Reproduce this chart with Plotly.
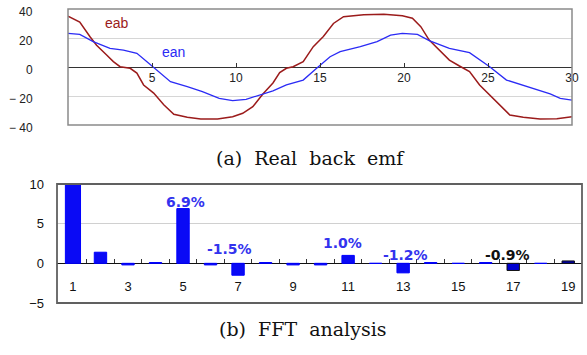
import plotly.graph_objects as go

# ---------------- data ----------------
# (a) real back emf: time axis and traced waveforms
eab_t = [0, 0.7, 1.3, 1.7, 2.3, 2.7, 3.1, 3.7, 4.1, 4.5, 5.1, 5.7, 6.3, 7.1, 7.9, 8.9, 9.8,
         10.4, 11.0, 11.6, 12.2, 12.6, 13.0, 13.4, 14.0, 14.6, 15.2, 15.8, 16.4, 17.6, 18.8,
         19.9, 20.5, 21.0, 21.5, 22.1, 22.7, 23.3, 23.9, 24.5, 25.1, 25.7, 26.3, 27.1, 28.1,
         29.1, 30.0]
eab_v = [35, 31, 21, 15, 8.3, 3.7, 0.2, -0.9, -4.2, -12.4, -18, -26, -32.6, -34.6, -35.9,
         -35.9, -34.3, -31.9, -27.4, -18.6, -11, -3.9, -0.9, 0.2, 3.7, 14, 21, 30, 34.7, 36,
         36.3, 35.4, 33.6, 27.8, 18.6, 11.7, 4.8, 0.7, -3.2, -12.4, -19.3, -26.9, -33.1,
         -34.7, -35.9, -35.7, -34.3]
ean_t = [0, 0.7, 1.5, 2.5, 3.3, 4.1, 4.7, 5.3, 6.1, 7.1, 8.0, 9.0, 9.8, 10.6, 11.4, 12.2,
         13.0, 14.0, 14.8, 15.6, 16.2, 17.4, 18.4, 19.2, 19.9, 20.8, 21.5, 22.7, 23.9, 24.5,
         25.1, 26.1, 27.5, 28.7, 29.3, 30.0]
ean_v = [23.2, 22.5, 17.5, 12.9, 11.7, 9.4, 3.7, -2.1, -10.1, -13.6, -17, -21.6, -23.2,
         -22.3, -19.3, -16.4, -12.4, -9, -0.9, 7.1, 10.6, 14, 17.5, 22, 23.2, 22.5, 18.2,
         12.9, 9.9, 4.8, 0.2, -9, -14, -18.6, -21.6, -22.8]
top_xticks = [5, 10, 15, 20, 25, 30]
top_yticks = [-40, -20, 0, 20, 40]

# (b) FFT analysis: harmonic order and amplitude [%]
harm = list(range(1, 20))
amp = [100, 1.4, -0.2, 0.1, 6.9, -0.2, -1.5, 0.1, -0.2, -0.2, 1.0, 0.0, -1.2, 0.1, 0.0,
       0.1, -0.9, 0.0, 0.3]
bot_xticks = [1, 3, 5, 7, 9, 11, 13, 15, 17, 19]
bot_yticks = [-5, 0, 5, 10]
pct_labels = ["6.9%", "-1.5%", "1.0%", "-1.2%", "-0.9%"]

# ---------------- layout / style ----------------
W, H = 587, 355
TD_X = [68 / W, 572 / W]
TD_Y = [1 - 125 / H, 1 - 9 / H]
BD_X = [57 / W, 582 / W]
BD_Y = [1 - 303 / H, 1 - 184 / H]
top_axis_pos = TD_Y[0] + 0.5 * (TD_Y[1] - TD_Y[0])
bot_axis_pos = BD_Y[0] + (5 / 15) * (BD_Y[1] - BD_Y[0])

top_font = dict(family="Liberation Sans, Arial", size=12, color="#222")
bot_font = dict(family="Liberation Sans, Arial", size=13, color="#111")

fig = go.Figure()
fig.add_trace(go.Scatter(x=eab_t, y=eab_v, mode="lines", name="eab",
                         line=dict(color="#9B1B1B", width=1.5),
                         xaxis="x", yaxis="y", showlegend=False))
fig.add_trace(go.Scatter(x=ean_t, y=ean_v, mode="lines", name="ean",
                         line=dict(color="#2B2BF5", width=1.3),
                         xaxis="x", yaxis="y", showlegend=False))

bar_line = ["#0000FF"] * len(harm)
bar_line[16] = "#111"
bar_line[18] = "#111"
bar_fill = ["#0A0AF5"] * len(harm)
bar_fill[16] = "#0000D0"
bar_fill[18] = "#0000B0"
bar_w = [0.55] + [0.45] * (len(harm) - 1)
fig.add_trace(go.Bar(x=harm, y=amp, width=bar_w, xaxis="x2", yaxis="y2",
                     marker=dict(color=bar_fill, line=dict(color=bar_line, width=1)),
                     showlegend=False))

fig.update_layout(
    width=W, height=H, margin=dict(l=0, r=0, t=0, b=0, autoexpand=False),
    paper_bgcolor="white", plot_bgcolor="white",
    xaxis=dict(domain=TD_X, range=[0, 30], anchor="free", position=top_axis_pos,
               tickmode="array", tickvals=top_xticks, ticks="inside", ticklen=4,
               tickcolor="#333", showline=False, showgrid=False, zeroline=False,
               tickfont=top_font, ticklabelstandoff=2, automargin=False),
    yaxis=dict(domain=TD_Y, range=[-40, 40], anchor="x",
               tickmode="array", tickvals=top_yticks, showticklabels=False,
               showgrid=True, gridcolor="#D6D6D6", gridwidth=1,
               zeroline=True, zerolinecolor="#333", zerolinewidth=1, showline=False,
               ticks="", automargin=False),
    xaxis2=dict(domain=BD_X, range=[0.42, 19.5], anchor="free", position=bot_axis_pos,
                tickmode="array", tickvals=bot_xticks, ticks="", showline=False,
                showgrid=False, zeroline=False, tickfont=bot_font,
                ticklabelstandoff=14, automargin=False,
                minor=dict(tickmode="array", tickvals=[i + 0.5 for i in range(1, 19)],
                           ticks="inside", ticklen=4, tickcolor="#333", showgrid=False)),
    yaxis2=dict(domain=BD_Y, range=[-5, 10], anchor="x2", tickmode="array",
                tickvals=bot_yticks, showgrid=True, gridcolor="#D0D0D0", gridwidth=1,
                zeroline=True, zerolinecolor="#111", zerolinewidth=1.2, showline=False,
                ticks="", tickfont=bot_font, ticklabelstandoff=12, automargin=False),
    bargap=0.5,
)

# top y tick labels (placed from the tick list, right-aligned away from the frame)
for v in top_yticks:
    fig.add_annotation(x=35 / W, y=v, xref="paper", yref="y", xanchor="right",
                       text=("\u2212 " + str(abs(v))) if v < 0 else str(v),
                       showarrow=False, yshift=-3, font=top_font)

# frames
fig.add_shape(type="rect", xref="x domain", yref="y domain", x0=0, x1=1, y0=0, y1=1,
              line=dict(color="#8A8A8A", width=1.5), layer="above")
fig.add_shape(type="rect", xref="x2 domain", yref="y2 domain", x0=0, x1=1, y0=0, y1=1,
              line=dict(color="#606060", width=1.8), layer="above")

# series labels in the top chart
fig.add_annotation(x=2.9, y=30.3, xref="x", yref="y", text="eab", showarrow=False,
                   font=dict(family="Liberation Sans, Arial", size=14, color="#9B1B1B"))
fig.add_annotation(x=6.25, y=10.3, xref="x", yref="y", text="ean", showarrow=False,
                   font=dict(family="Liberation Sans, Arial", size=14, color="#2B2BF5"))

# percent labels in the FFT chart
lab_pos = [(5.1, 7.7), (6.7, 1.75), (10.8, 2.6), (13.1, 1.0), (16.8, 1.0)]
lab_col = ["#3333EE", "#3333EE", "#3333EE", "#3333EE", "#111"]
for t, (lx, ly), c in zip(pct_labels, lab_pos, lab_col):
    fig.add_annotation(x=lx, y=ly, xref="x2", yref="y2", text="<b>" + t + "</b>",
                       showarrow=False,
                       font=dict(family="DejaVu Sans, Arial", size=14, color=c))

# captions
fig.add_annotation(x=310 / W, y=1 - 158 / H, xref="paper", yref="paper",
                   text="(a)  Real  back  emf", showarrow=False,
                   font=dict(family="DejaVu Serif, Liberation Serif", size=19, color="#111"))
fig.add_annotation(x=302 / W, y=1 - 342 / H, xref="paper", yref="paper",
                   text="(b)  FFT  analysis", showarrow=False,
                   font=dict(family="DejaVu Serif, Liberation Serif", size=19, color="#111"))

fig.write_html("out.html", config={"displayModeBar": False},
               post_script="document.body.style.margin='0';document.body.style.padding='0';"
                           "document.documentElement.style.overflow='hidden';")
